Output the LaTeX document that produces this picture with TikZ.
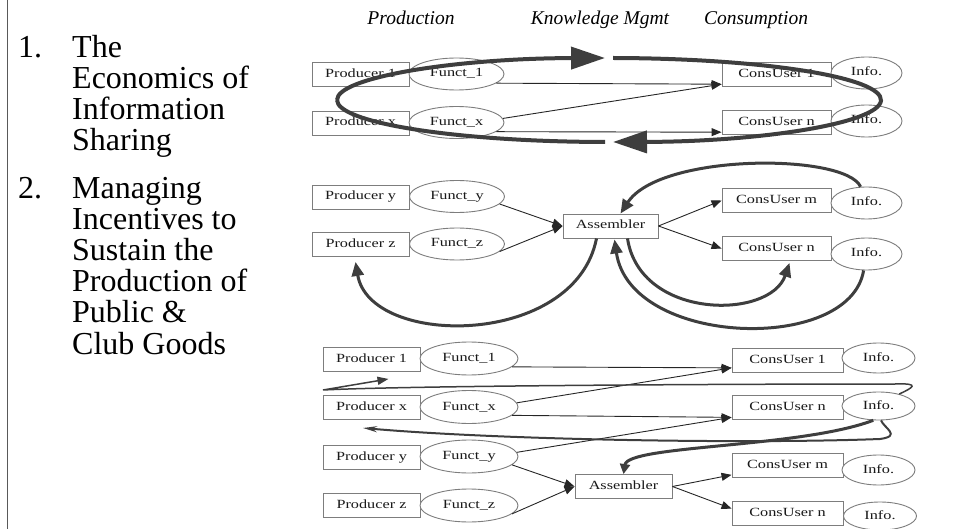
\documentclass[tikz,border=0pt]{standalone}
\usepackage{fontspec}
\setmainfont{Liberation Serif}
\usepackage{graphicx}
\usetikzlibrary{arrows.meta,shapes.geometric,calc}

\definecolor{loopgray}{RGB}{62,62,62}
\definecolor{edgegray}{RGB}{125,125,125}
% widened small labels inside the boxes and ellipses
\newcommand{\nlbl}[1]{\scalebox{1.3}[1]{#1}}

\tikzset{
  prodbox/.style={rectangle, draw=edgegray, line width=0.9pt, fill=white,
    minimum width=97, minimum height=24, inner sep=0pt,
    text height=8.5pt, text depth=2.5pt,
    font=\fontsize{12.5}{13}\selectfont, text=black!90},
  consbox/.style={prodbox, minimum width=109},
  asmbox/.style={prodbox, minimum width=95},
  fnell/.style={ellipse, draw=edgegray, line width=0.9pt, fill=white,
    minimum width=95, minimum height=32, inner sep=0pt,
    text height=8.5pt, text depth=2.5pt,
    font=\fontsize{12.5}{13}\selectfont, text=black!90},
  infoell/.style={fnell, minimum width=71},
  flow/.style={line width=0.9pt, draw=black!85, -{Triangle[length=10pt,width=8pt]}},
  bigloop/.style={line width=4pt, draw=loopgray},
  looptip/.style={-{Triangle[length=34pt,width=22pt]}},
  swoop/.style={line width=3pt, draw=loopgray, -{Triangle[length=14pt,width=12pt]}},
  listtext/.style={anchor=base west, inner sep=0pt, font=\fontsize{32}{32}\selectfont},
  colhead/.style={anchor=base, inner sep=0pt, font=\fontsize{19.5}{22}\selectfont\itshape},
}

\begin{document}
\begin{tikzpicture}[x=1pt,y=-1pt]
\useasboundingbox (0,0) rectangle (961,529);

% left frame edge
\draw[line width=1pt, black!65] (7,0) -- (7,529);

% numbered list
\node[listtext] (n1) at (18,58) {1.};
\node[listtext] (l1a) at (72,58) {The};
\node[listtext] (l1b) at (72,89) {Economics of};
\node[listtext] (l1c) at (72,120) {Information};
\node[listtext] (l1d) at (72,151) {Sharing};
\node[listtext] (n2) at (18,199) {2.};
\node[listtext] (l2a) at (72,199) {Managing};
\node[listtext] (l2b) at (72,230) {Incentives to};
\node[listtext] (l2c) at (72,261) {Sustain the};
\node[listtext] (l2d) at (72,292) {Production of};
\node[listtext] (l2e) at (72,323) {Public \&};
\node[listtext] (l2f) at (72,354) {Club Goods};

% column headings
\node[colhead] (hprod) at (411,25) {Production};
\node[colhead] (hkm) at (600,25) {Knowledge Mgmt};
\node[colhead] (hcons) at (756,25) {Consumption};

% ---------- first scheme: direct sharing ----------
\node[prodbox] (tp1) at (360.5,74.5) {\nlbl{Producer 1}};
\node[fnell] (tf1) at (456.5,74) {\nlbl{Funct\_1}};
\node[prodbox] (tpx) at (360.5,123) {\nlbl{Producer x}};
\node[fnell] (tfx) at (456.5,122.5) {\nlbl{Funct\_x}};
\node[consbox] (tc1) at (776.5,74.5) {\nlbl{ConsUser 1}};
\node[infoell] (ti1) at (866.5,73) {\nlbl{Info.}};
\node[consbox] (tcn) at (776.5,122.5) {\nlbl{ConsUser n}};
\node[infoell] (ti2) at (866.5,121) {\nlbl{Info.}};

\draw[flow] (tf1.-13) -- (tc1.190);
\draw[flow] (tfx.5) -- (tc1.190);
\draw[flow] (tfx.-13) -- (tcn.190);

% feedback loop around the first scheme
\coordinate (loopC) at (609,100);
\draw[bigloop, looptip] ($(loopC)+(-272,0)$) arc[start angle=180, end angle=269.16, x radius=272, y radius=42];
\draw[bigloop, looptip] ($(loopC)+(4,-42)$) arc[start angle=270.84, end angle=449.16, x radius=272, y radius=42];
\draw[bigloop] ($(loopC)+(-4,42)$) arc[start angle=90.84, end angle=180, x radius=272, y radius=42];

% ---------- second scheme: assembler ----------
\node[prodbox] (mpy) at (360.5,197) {\nlbl{Producer y}};
\node[fnell] (mfy) at (457,196.5) {\nlbl{Funct\_y}};
\node[prodbox] (mpz) at (360.5,244.5) {\nlbl{Producer z}};
\node[fnell] (mfz) at (457,244) {\nlbl{Funct\_z}};
\node[asmbox] (ma) at (610.5,226) {\nlbl{Assembler}};
\node[consbox] (mcm) at (776.5,200.5) {\nlbl{ConsUser m}};
\node[infoell] (mi1) at (866.5,203) {\nlbl{Info.}};
\node[consbox] (mcn) at (776.5,248.5) {\nlbl{ConsUser n}};
\node[infoell] (mi2) at (866.5,254) {\nlbl{Info.}};

\draw[flow] (mfy.-10) -- (ma.west);
\draw[flow] (mfz.-10) -- (ma.west);
\draw[flow] (ma.east) -- (mcm.west);
\draw[flow] (ma.east) -- (mcn.west);

\draw[swoop] (mi1.110) .. controls (845,153) and (660,153) .. ($(ma.north)+(10,0)$);
\draw[swoop] ($(ma.south)+(-14,0)$) .. controls (575,348) and (370,348) .. ($(mpz.south)+(-5,5)$);
\draw[swoop] (mi2.260) .. controls (850,354) and (630,347) .. ($(ma.south)+(4,1)$);
\draw[swoop] ($(ma.south)+(17,0)$) .. controls (640,320) and (770,320) .. ($(mcn.south)+(13,2)$);

% ---------- third scheme: combined ----------
\node[prodbox] (bp1) at (371.5,359.5) {\nlbl{Producer 1}};
\node[fnell, minimum width=98, minimum height=33] (bf1) at (469,358.5) {\nlbl{Funct\_1}};
\node[prodbox] (bpx) at (371.5,407.5) {\nlbl{Producer x}};
\node[fnell, minimum width=98, minimum height=33] (bfx) at (469,407) {\nlbl{Funct\_x}};
\node[prodbox] (bpy) at (371.5,457.5) {\nlbl{Producer y}};
\node[fnell, minimum width=98, minimum height=33] (bfy) at (469,456.5) {\nlbl{Funct\_y}};
\node[prodbox] (bpz) at (371.5,505.5) {\nlbl{Producer z}};
\node[fnell, minimum width=98, minimum height=33] (bfz) at (469,505.5) {\nlbl{Funct\_z}};
\node[asmbox, minimum width=97] (ba) at (623.5,486.5) {\nlbl{Assembler}};
\node[consbox, minimum width=111] (bc1) at (787.5,360) {\nlbl{ConsUser 1}};
\node[infoell, minimum width=73, minimum height=30] (bi1) at (878.5,358) {\nlbl{Info.}};
\node[consbox, minimum width=111] (bcn) at (787.5,407.5) {\nlbl{ConsUser n}};
\node[infoell, minimum width=73, minimum height=28] (bi2) at (878.5,406) {\nlbl{Info.}};
\node[consbox, minimum width=111] (bcm) at (787.5,465) {\nlbl{ConsUser m}};
\node[infoell, minimum width=73, minimum height=30] (bi3) at (878.5,470) {\nlbl{Info.}};
\node[consbox, minimum width=111] (bcn2) at (787.5,513.5) {\nlbl{ConsUser n}};
\node[infoell, minimum width=73, minimum height=28] (bi4) at (880,516) {\nlbl{Info.}};

\draw[flow] (bf1.-11) -- (bc1.188);
\draw[flow] (bfx.5) -- (bc1.188);
\draw[flow] (bfx.-11) -- (bcn.190);
\draw[flow] (bfy.5) -- (bcn.190);
\draw[flow] (bfy.-11) -- (ba.west);
\draw[flow] (bfz.-11) -- (ba.west);
\draw[flow] (ba.east) -- (bcm.190);
\draw[flow] (ba.east) -- (bcn2.175);

% return paths of the combined scheme
\draw[line width=1.5pt, draw=loopgray, -{Triangle[length=11pt,width=8pt]}]
  (bi2.30) .. controls (912,388) and (922,383) .. (895,384)
  .. controls (700,384) and (400,386) .. (323,390) -- ($(bp1.south)+(17,7)$);
\draw[line width=2pt, draw=loopgray, -{Stealth[length=14pt,width=6pt]}]
  (bi2.-80) .. controls (884,428) and (902,436) .. (880,439)
  .. controls (750,444) and (500,440) .. (363,428);
\draw[line width=3pt, draw=loopgray, -{Triangle[length=10pt,width=10pt]}]
  (bi2.250) .. controls (800,448) and (628,445) .. (ba.north);
\end{tikzpicture}
\end{document}
